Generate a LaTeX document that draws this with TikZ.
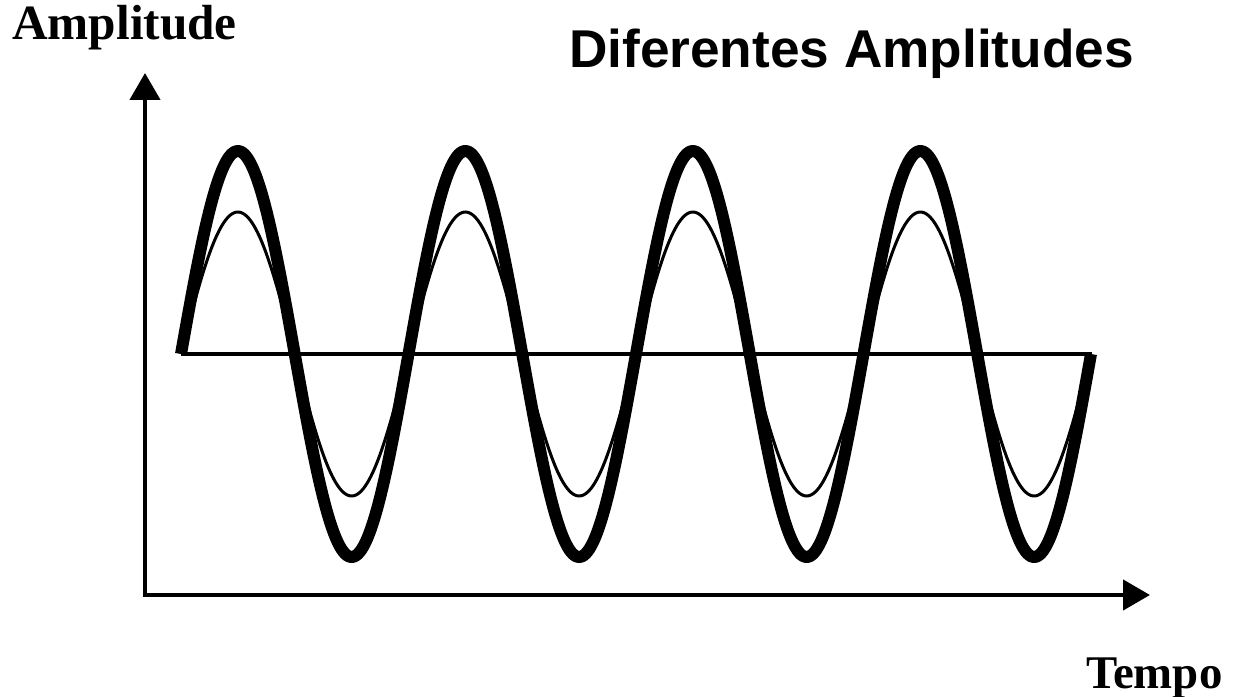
\documentclass[tikz,border=0pt]{standalone}
\usepackage{fontspec}
\setmainfont{Liberation Serif}
\setsansfont{Liberation Sans}
\usetikzlibrary{arrows.meta}
\tikzset{
  axisline/.style={line width=4.5bp, -{Triangle[length=27bp,width=30bp]}},
  baseline/.style={line width=4bp},
  bigwave/.style={line width=12bp, line join=round},
  smallwave/.style={line width=3bp},
  axislabel/.style={inner sep=0pt, anchor=base west, font=\fontsize{49.5}{52}\selectfont\bfseries},
  tempolabel/.style={inner sep=0pt, anchor=base west, font=\fontsize{47}{50}\selectfont\bfseries},
  titlelabel/.style={inner sep=0pt, anchor=base west, font=\fontsize{53.4}{56}\selectfont\sffamily\bfseries}
}
\begin{document}
\begin{tikzpicture}[x=1bp,y=-1bp]
\useasboundingbox (0,0) rectangle (1233,697);
\coordinate (O) at (145,595);
\coordinate (Ytop) at (145,73);
\coordinate (Xend) at (1150,595);
\coordinate (B0) at (181,354);
\coordinate (B1) at (1092,354);
\draw[baseline] (B0) -- (B1);
\draw[smallwave] plot[domain=181:1091, samples=500, smooth] (\x, {354 - 142*sin((\x-181)/227.5*360)});
\draw[bigwave] plot[domain=181:1091, samples=500, smooth] (\x, {354 - 203*sin((\x-181)/227.5*360)});
\draw[axisline] ([yshift=2.25bp]O) -- (Ytop);
\draw[axisline] ([xshift=-2.25bp]O) -- (Xend);
\node[axislabel] (amp) at (12,40) {Amplitude};
\node[tempolabel] (tempo) at (1086,688) {Tempo};
\node[titlelabel] (title) at (569,68) {Diferentes Amplitudes};
\end{tikzpicture}
\end{document}
